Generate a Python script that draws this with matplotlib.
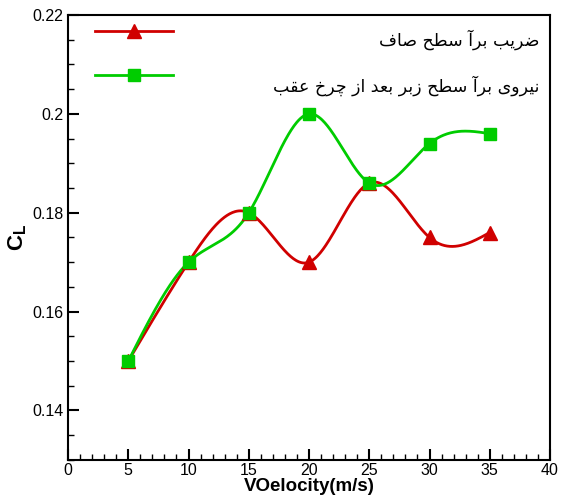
"""Lift coefficient vs velocity: smooth surface vs rough surface with rear wheel."""

import matplotlib

matplotlib.use("Agg")
import matplotlib.pyplot as plt  # noqa: E402
import numpy as np  # noqa: E402
from matplotlib.ticker import MultipleLocator  # noqa: E402

velocity = [5, 10, 15, 20, 25, 30, 35]
cl_smooth = [0.150, 0.170, 0.180, 0.170, 0.186, 0.175, 0.176]
cl_rough = [0.150, 0.170, 0.180, 0.200, 0.186, 0.194, 0.196]
label_smooth = "ضریب برآ سطح صاف"
label_rough = "نیروی برآ سطح زبر بعد از چرخ عقب"

RED = "#d00000"
GREEN = "#00cc00"

# contextual forms: (isolated, final, initial, medial); two-form letters only join to the right
FORMS = {
    "ا": ("\uFE8D", "\uFE8E"), "آ": ("\uFE81", "\uFE82"),
    "د": ("\uFEA9", "\uFEAA"), "ر": ("\uFEAD", "\uFEAE"),
    "ز": ("\uFEAF", "\uFEB0"), "و": ("\uFEED", "\uFEEE"),
    "ب": ("\uFE8F", "\uFE90", "\uFE91", "\uFE92"),
    "ح": ("\uFEA1", "\uFEA2", "\uFEA3", "\uFEA4"),
    "خ": ("\uFEA5", "\uFEA6", "\uFEA7", "\uFEA8"),
    "س": ("\uFEB1", "\uFEB2", "\uFEB3", "\uFEB4"),
    "ص": ("\uFEB9", "\uFEBA", "\uFEBB", "\uFEBC"),
    "ض": ("\uFEBD", "\uFEBE", "\uFEBF", "\uFEC0"),
    "ط": ("\uFEC1", "\uFEC2", "\uFEC3", "\uFEC4"),
    "ع": ("\uFEC9", "\uFECA", "\uFECB", "\uFECC"),
    "ف": ("\uFED1", "\uFED2", "\uFED3", "\uFED4"),
    "ق": ("\uFED5", "\uFED6", "\uFED7", "\uFED8"),
    "ن": ("\uFEE5", "\uFEE6", "\uFEE7", "\uFEE8"),
    "ی": ("\uFBFC", "\uFBFD", "\uFBFE", "\uFBFF"),
    "چ": ("\uFB7A", "\uFB7B", "\uFB7C", "\uFB7D"),
}


def shape(text):
    """Join Persian letters into presentation forms and reverse for LTR drawing."""
    out = []
    for i, ch in enumerate(text):
        f = FORMS.get(ch)
        if f is None:
            out.append(ch)
            continue
        prev = text[i - 1] if i > 0 else " "
        nxt = text[i + 1] if i + 1 < len(text) else " "
        join_prev = prev in FORMS and len(FORMS[prev]) == 4
        join_next = len(f) == 4 and nxt in FORMS
        if join_prev and join_next:
            out.append(f[3])
        elif join_prev:
            out.append(f[1])
        elif join_next:
            out.append(f[2])
        else:
            out.append(f[0])
    return "".join(reversed(out))


def spline(x, y, n=400):
    """Natural cubic spline through the points, for a smooth line like the original."""
    x = np.asarray(x, float)
    y = np.asarray(y, float)
    m = len(x)
    h = np.diff(x)
    A = np.zeros((m, m))
    b = np.zeros(m)
    A[0, 0] = A[-1, -1] = 1
    for i in range(1, m - 1):
        A[i, i - 1] = h[i - 1]
        A[i, i] = 2 * (h[i - 1] + h[i])
        A[i, i + 1] = h[i]
        b[i] = 6 * ((y[i + 1] - y[i]) / h[i] - (y[i] - y[i - 1]) / h[i - 1])
    M = np.linalg.solve(A, b)
    xs = np.linspace(x[0], x[-1], n)
    k = np.clip(np.searchsorted(x, xs) - 1, 0, m - 2)
    t0 = x[k + 1] - xs
    t1 = xs - x[k]
    hk = h[k]
    ys = (M[k] * t0 ** 3 + M[k + 1] * t1 ** 3) / (6 * hk) \
        + (y[k] / hk - M[k] * hk / 6) * t0 + (y[k + 1] / hk - M[k + 1] * hk / 6) * t1
    return xs, ys


plt.rcParams["font.family"] = ["Liberation Sans", "DejaVu Sans"]
plt.rcParams["mathtext.fontset"] = "custom"
plt.rcParams["mathtext.bf"] = "Liberation Sans:bold"
plt.rcParams["mathtext.rm"] = "Liberation Sans"

fig = plt.figure(figsize=(5.67, 5.01), dpi=100)
ax = fig.add_axes([0.120, 0.082, 0.850, 0.888])

for ys, color, marker, ms in [(cl_smooth, RED, "^", 10), (cl_rough, GREEN, "s", 8.5)]:
    sx, sy = spline(velocity, ys)
    ax.plot(sx, sy, color=color, lw=2, zorder=2)
    ax.plot(velocity, ys, ls="none", marker=marker, ms=ms, color=color, zorder=3)

ax.set_xlim(0, 40)
ax.set_ylim(0.13, 0.22)
ax.xaxis.set_major_locator(MultipleLocator(5))
ax.xaxis.set_minor_locator(MultipleLocator(1))
ax.yaxis.set_major_locator(MultipleLocator(0.02))
ax.yaxis.set_minor_locator(MultipleLocator(0.005))
ax.yaxis.set_major_formatter(plt.FuncFormatter(lambda v, _: f"{v:.2f}".rstrip("0")))
ax.tick_params(which="both", direction="in", top=False, right=False, labelsize=11.5)
ax.tick_params(axis="x", pad=2)
ax.tick_params(which="major", length=8, width=1.5)
ax.tick_params(which="minor", length=4, width=1)
for s in ax.spines.values():
    s.set_linewidth(1.5)

ax.set_xlabel("VOelocity(m/s)", fontsize=13.5, fontweight="bold", labelpad=0)
ax.set_ylabel(r"$\mathbf{C}_\mathbf{L}$", fontsize=16, labelpad=2)

# hand-placed legend, as in the original (sample line left, text flush right)
for yy, color, marker, ms, text, ty in [
    (0.964, RED, "^", 10, label_smooth, 0.945),
    (0.865, GREEN, "s", 8.5, label_rough, 0.842),
]:
    ax.plot([0.056, 0.218], [yy, yy], color=color, lw=2, transform=ax.transAxes)
    ax.plot([0.137], [yy], marker=marker, ms=ms, color=color, transform=ax.transAxes)
    ax.text(0.979, ty, shape(text), transform=ax.transAxes, ha="right", va="center",
            fontsize=12.5, family=["DejaVu Sans"])

fig.savefig("out.png", dpi=100)
